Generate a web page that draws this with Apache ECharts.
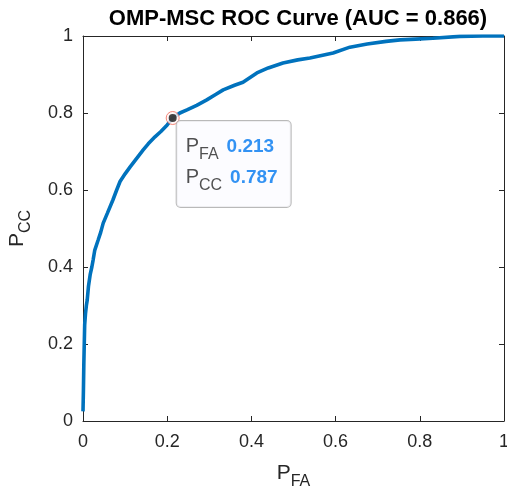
<!DOCTYPE html>
<html>
<head>
<meta charset="utf-8">
<style>
  html, body { margin: 0; padding: 0; background: #fff; }
  #chart { width: 507px; height: 488px; }
</style>
<script src="https://cdn.jsdelivr.net/npm/echarts@6/dist/echarts.min.js"></script>
</head>
<body>
<div id="chart"></div>
<script>
// ROC curve of the OMP-MSC classifier: false-alarm rate vs. correct-classification rate
const pFA = [0, 0.001, 0.002, 0.003, 0.004, 0.006, 0.008, 0.010, 0.013, 0.017, 0.021, 0.024,
  0.028, 0.036, 0.042, 0.048, 0.058, 0.071, 0.080, 0.088, 0.100, 0.112, 0.128, 0.143,
  0.155, 0.171, 0.185, 0.200, 0.213, 0.230, 0.247, 0.270, 0.294, 0.315, 0.333, 0.360,
  0.380, 0.413, 0.440, 0.475, 0.510, 0.539, 0.594, 0.634, 0.675, 0.720, 0.753, 0.790,
  0.831, 0.895, 0.950, 1.0];
const pCC = [0.025, 0.08, 0.15, 0.20, 0.25, 0.28, 0.30, 0.314, 0.35, 0.38, 0.40, 0.418,
  0.444, 0.47, 0.49, 0.514, 0.54, 0.574, 0.60, 0.622, 0.642, 0.66, 0.683, 0.704,
  0.72, 0.738, 0.752, 0.769, 0.787, 0.80, 0.808, 0.82, 0.834, 0.848, 0.86, 0.872,
  0.88, 0.904, 0.917, 0.93, 0.938, 0.943, 0.956, 0.971, 0.979, 0.986, 0.99, 0.992,
  0.994, 0.999, 1.0, 1.0];
const auc = 0.866;
// highlighted operating point
const tipFA = 0.213;
const tipCC = 0.787;

const FONT = 'Liberation Sans, Arial, Helvetica, sans-serif';
const AX = '#262626';

const curve = pFA.map((x, i) => [x, pCC[i]]);

const chart = echarts.init(document.getElementById('chart'), null, { renderer: 'canvas' });

const baseAxis = {
  type: 'value', min: 0, max: 1, interval: 0.2,
  axisLine: { show: true, onZero: false, lineStyle: { color: AX, width: 1 } },
  axisTick: { show: true, inside: true, length: 5, lineStyle: { color: AX, width: 1 } },
  splitLine: { show: false },
};

chart.setOption({
  animation: false,
  textStyle: { fontFamily: FONT },
  title: {
    text: 'OMP-MSC ROC Curve (AUC = ' + auc.toFixed(3) + ')',
    left: 293, top: 3, textAlign: 'center',
    textStyle: { fontFamily: FONT, fontSize: 22, fontWeight: 'bold', color: '#000' }
  },
  grid: { left: 83, right: 3, top: 36, bottom: 67, containLabel: false, outerBoundsMode: 'none' },
  xAxis: [
    Object.assign({}, baseAxis, {
      position: 'bottom',
      name: '{p|P}{s|FA}', nameLocation: 'middle', nameGap: 35,
      nameTextStyle: {
        rich: {
          p: { fontFamily: FONT, fontSize: 21, color: AX },
          s: { fontFamily: FONT, fontSize: 16, color: AX, padding: [18, 0, 0, 0] }
        }
      },
      axisLabel: { margin: 12, fontFamily: FONT, fontSize: 18, color: AX }
    }),
    Object.assign({}, baseAxis, { position: 'top', axisLabel: { show: false } })
  ],
  yAxis: [
    Object.assign({}, baseAxis, {
      position: 'left',
      name: '{p|P}{s|CC}', nameLocation: 'middle', nameGap: 49, nameRotate: 90,
      nameTextStyle: {
        rich: {
          p: { fontFamily: FONT, fontSize: 21, color: AX },
          s: { fontFamily: FONT, fontSize: 16, color: AX, padding: [18, 0, 0, 0] }
        }
      },
      axisLabel: { margin: 10, fontFamily: FONT, fontSize: 18, color: AX }
    }),
    Object.assign({}, baseAxis, { position: 'right', axisLabel: { show: false } })
  ],
  series: [
    {
      type: 'line', data: curve, showSymbol: false, symbol: 'none',
      lineStyle: { color: '#0072BD', width: 3.6 }, silent: true, z: 2
    },
    {
      // ring around the selected point
      type: 'scatter', data: [[tipFA, tipCC]], symbolSize: 13, silent: true, z: 3,
      itemStyle: { color: '#fff5f5', borderColor: '#f06a5a', borderWidth: 1 }
    },
    {
      type: 'scatter', data: [[tipFA, tipCC]], symbolSize: 8, silent: true, z: 4,
      itemStyle: { color: '#151515' },
      label: {
        show: true, position: [8, 7], align: 'left', verticalAlign: 'top',
        formatter: () => '{p|P}{s|FA}{v|' + tipFA.toFixed(3) + '}\n{p|P}{s|CC}{v|' + tipCC.toFixed(3) + '}',
        backgroundColor: '#fbfbff', borderColor: '#a8a8a8', borderWidth: 1, borderRadius: 4,
        padding: [10, 13, 14, 9], lineHeight: 31,
        rich: {
          p: { fontFamily: FONT, fontSize: 20, color: AX, lineHeight: 31 },
          s: { fontFamily: FONT, fontSize: 16, color: AX, lineHeight: 31, padding: [17, 0, 0, 0] },
          v: { fontFamily: FONT, fontSize: 19, fontWeight: 'bold', color: '#0078f0', lineHeight: 31, padding: [0, 0, 0, 8] }
        }
      }
    }
  ]
});
</script>
</body>
</html>
